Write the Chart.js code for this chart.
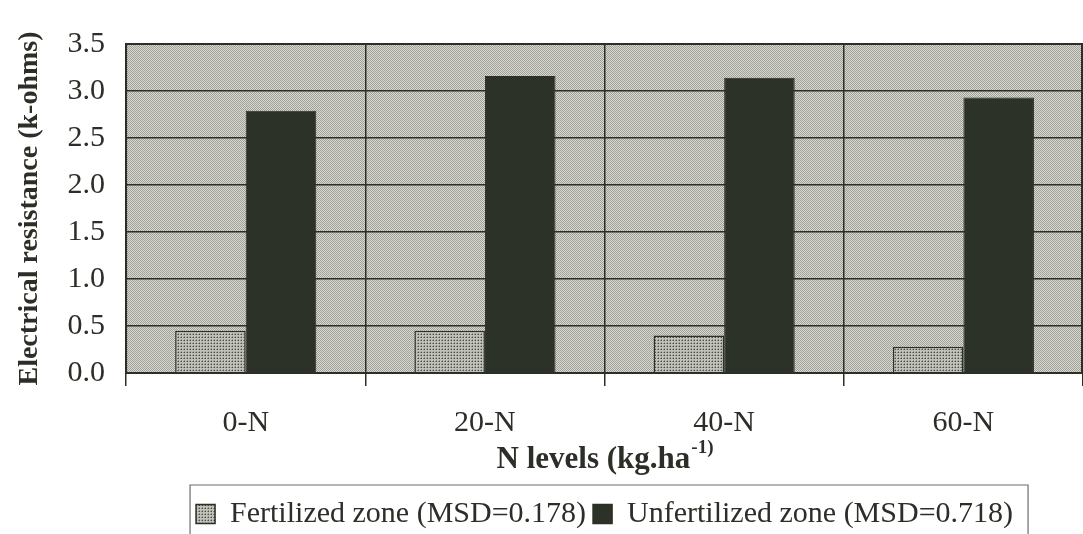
<!DOCTYPE html>
<html>
<head>
<meta charset="utf-8">
<script src="https://cdn.jsdelivr.net/npm/chart.js@4.4.1/dist/chart.umd.min.js"></script>
<style>
  html, body { margin: 0; padding: 0; background: #ffffff; }
  #wrap { width: 1083px; height: 534px; }
</style>
</head>
<body>
<div id="wrap"><canvas id="c" width="1083" height="534"></canvas></div>
<script>
// N application levels and measured electrical resistance (k-ohms)
const categories = ['0-N', '20-N', '40-N', '60-N'];
const fertilized = [0.45, 0.45, 0.40, 0.28];
const unfertilized = [2.79, 3.16, 3.14, 2.93];
const seriesNames = ['Fertilized zone (MSD=0.178)', 'Unfertilized zone (MSD=0.718)'];
const yTicks = [0, 0.5, 1.0, 1.5, 2.0, 2.5, 3.0, 3.5];

const INK = '#2b2f27';
const SERIF = '"Liberation Serif", "Times New Roman", serif';

// halftone-like fills
function makePattern(size, base, dots) {
  const cv = document.createElement('canvas');
  cv.width = size; cv.height = size;
  const g = cv.getContext('2d');
  g.fillStyle = base; g.fillRect(0, 0, size, size);
  dots.forEach(d => { g.fillStyle = d[2]; g.fillRect(d[0], d[1], 1, 1); });
  return g.createPattern(cv, 'repeat');
}
const ctx = document.getElementById('c').getContext('2d');
const plotFill = makePattern(2, '#d8d8d0', [[0, 0, '#a0a198'], [1, 1, '#a0a198']]);
const fertFill = makePattern(3, '#c0c1b8', [[1, 1, '#4a4c43'], [0, 1, '#878880'], [1, 0, '#94958c']]);
const unfertFill = '#2c3228';

const plotBackground = {
  id: 'plotBackground',
  beforeDraw(chart) {
    const a = chart.chartArea, c = chart.ctx;
    c.save();
    c.fillStyle = plotFill;
    c.fillRect(a.left, a.top, a.right - a.left, a.bottom - a.top);
    c.restore();
  },
  afterDraw(chart) {
    const a = chart.chartArea, c = chart.ctx;
    c.save();
    c.strokeStyle = INK; c.lineWidth = 2;
    c.strokeRect(a.left, a.top, a.right - a.left - 1, a.bottom - a.top);
    // x axis title with superscript unit
    const xs = chart.scales.x;
    const main = 'N levels (kg.ha';
    const sup = '-1)';
    c.fillStyle = INK;
    c.textBaseline = 'alphabetic';
    c.font = 'bold 31px ' + SERIF;
    const w1 = c.measureText(main).width;
    c.font = 'bold 19px ' + SERIF;
    const w2 = c.measureText(sup).width;
    const cx = (a.left + a.right) / 2;
    const x0 = cx - (w1 + w2) / 2;
    const y = xs.bottom - 24;
    c.font = 'bold 31px ' + SERIF;
    c.fillText(main, x0, y);
    c.font = 'bold 19px ' + SERIF;
    c.fillText(sup, x0 + w1 + 1, y - 15);
    // legend frame
    const lg = chart.legend;
    if (lg && lg.legendHitBoxes && lg.legendHitBoxes.length) {
      const hb = lg.legendHitBoxes;
      const last = hb[hb.length - 1];
      const l = hb[0].left - 6;
      const r = last.left + last.width + 15;
      const t = lg.top - 7;
      c.strokeStyle = '#6d6e68'; c.lineWidth = 1.2;
      c.beginPath();
      c.moveTo(l, chart.height);
      c.lineTo(l, t);
      c.lineTo(r, t);
      c.lineTo(r, chart.height);
      c.stroke();
    }
    c.restore();
  }
};

new Chart(ctx, {
  type: 'bar',
  data: {
    labels: categories,
    datasets: [
      { label: seriesNames[0], data: fertilized, backgroundColor: fertFill, borderColor: INK, borderWidth: 1.5 },
      { label: seriesNames[1], data: unfertilized, backgroundColor: unfertFill, borderColor: INK, borderWidth: 1 }
    ]
  },
  options: {
    responsive: false,
    animation: false,
    devicePixelRatio: 1,
    categoryPercentage: 0.59,
    barPercentage: 1.0,
    layout: { padding: { top: 44, right: 0, left: 0, bottom: -5 } },
    plugins: {
      tooltip: { enabled: false },
      legend: {
        position: 'bottom',
        fullSize: false,
        labels: {
          color: INK,
          font: { family: SERIF, size: 30 },
          boxWidth: 19, boxHeight: 19,
          padding: 7,
          generateLabels(chart) {
            return chart.data.datasets.map((d, i) => ({
              text: d.label,
              fillStyle: d.backgroundColor,
              strokeStyle: INK,
              lineWidth: 1.5,
              datasetIndex: i,
              fontColor: INK
            }));
          }
        }
      }
    },
    scales: {
      x: {
        grid: { color: INK, lineWidth: 1.5, offset: true, tickLength: 13, drawOnChartArea: true },
        border: { display: true, color: INK, width: 2 },
        ticks: { color: INK, font: { family: SERIF, size: 30 }, padding: 19 },
        afterFit(scale) { scale.height += 32; }
      },
      y: {
        min: 0, max: 3.5,
        afterBuildTicks(scale) { scale.ticks = yTicks.map(v => ({ value: v })); },
        grid: { color: INK, lineWidth: 1.5, drawTicks: false },
        border: { display: true, color: INK, width: 2 },
        ticks: {
          color: INK,
          font: { family: SERIF, size: 30 },
          padding: 21,
          callback: v => Number(v).toFixed(1)
        },
        title: {
          display: true,
          text: 'Electrical resistance (k-ohms)',
          color: INK,
          font: { family: SERIF, size: 28, weight: 'bold' },
          padding: { top: 13, bottom: 0 }
        }
      }
    }
  },
  plugins: [plotBackground]
});
</script>
</body>
</html>
